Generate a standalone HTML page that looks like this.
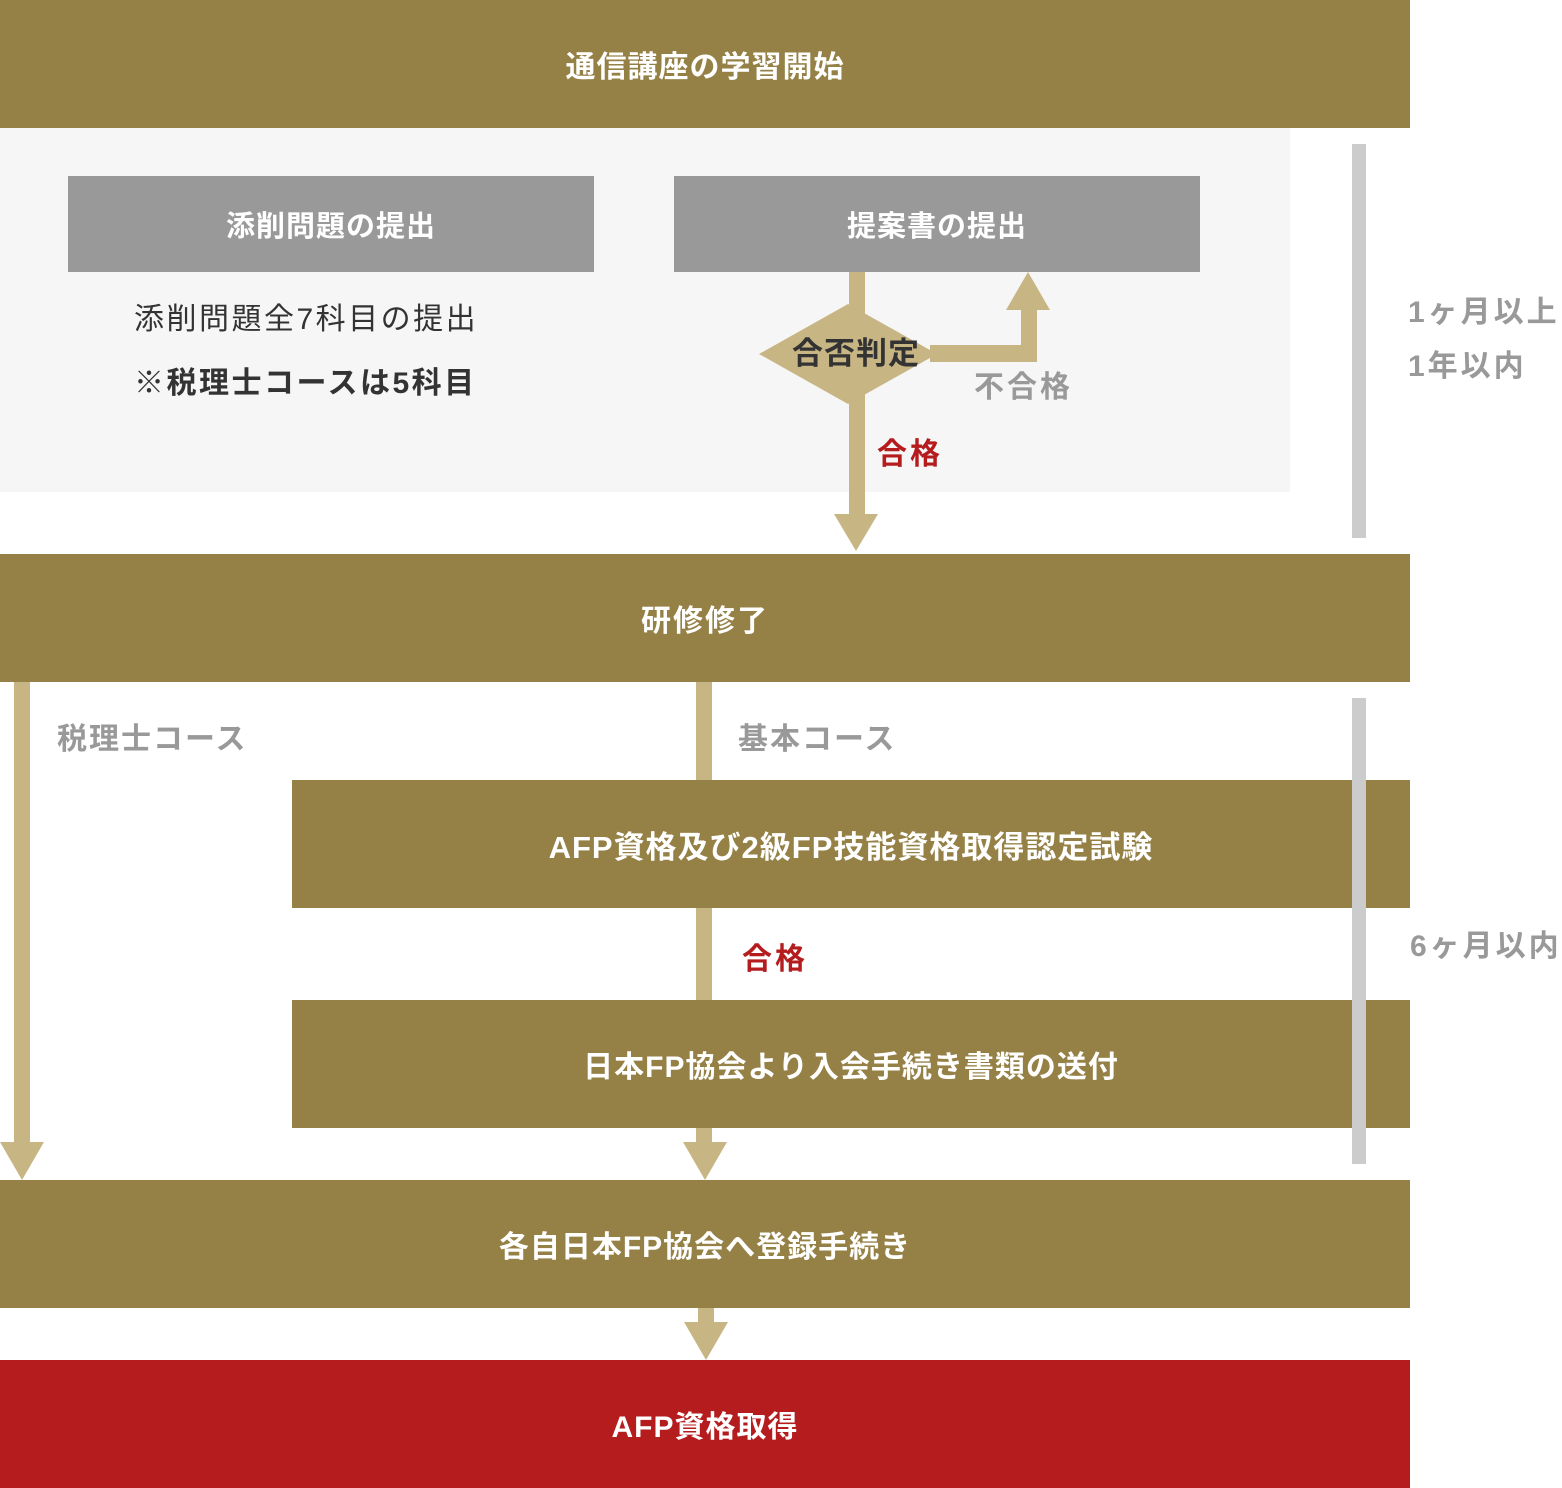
<!DOCTYPE html>
<html><head><meta charset="utf-8"><style>
*{margin:0;padding:0;box-sizing:border-box}
body{width:1562px;height:1488px;background:#fff;position:relative;overflow:hidden;font-family:"Liberation Sans","Noto Sans CJK JP",sans-serif}
.a{position:absolute}
.b{position:absolute;background:#958046;color:#fff;font-weight:bold;font-size:30px;display:flex;align-items:center;justify-content:center;letter-spacing:2px}
.g{position:absolute;background:#999;color:#fff;font-weight:bold;font-size:29px;display:flex;align-items:center;justify-content:center;letter-spacing:2px}
.t{position:absolute;font-size:29px;white-space:nowrap;line-height:1;font-weight:bold}
</style></head><body>
<div class="a" style="left:0;top:128px;width:1290px;height:364px;background:#f6f6f6"></div>
<div class="b" style="left:0;top:0;width:1410px;height:128px;letter-spacing:1px">通信講座の学習開始</div>
<div class="g" style="left:68px;top:176px;width:526px;height:96px;letter-spacing:1px">添削問題の提出</div>
<div class="g" style="left:674px;top:176px;width:526px;height:96px;letter-spacing:1px">提案書の提出</div>
<div class="t" style="left:134px;top:305px;color:#333;font-weight:normal;letter-spacing:2.5px;font-size:30px">添削問題全7科目の提出</div>
<div class="t" style="left:134px;top:369px;color:#333;letter-spacing:2.5px;font-size:30px">※税理士コースは5科目</div>
<div class="t" style="left:1408px;top:298px;color:#999;letter-spacing:3px;font-size:30px">1ヶ月以上</div>
<div class="t" style="left:1408px;top:352px;color:#999;letter-spacing:3px;font-size:30px">1年以内</div>
<div class="t" style="left:1410px;top:932px;color:#999;letter-spacing:3px;font-size:30px">6ヶ月以内</div>
<svg class="a" style="left:0;top:0" width="1562" height="1488">
<g fill="#c8b584">
<rect x="849" y="272" width="16" height="244"/>
<polygon points="759,354 848,304 937,354 848,404"/>
<rect x="930" y="345" width="107" height="17"/>
<rect x="1021" y="308" width="16" height="54"/>
<polygon points="1006,310 1050,310 1028,272"/>
<polygon points="834,514 878,514 856,551"/>
<rect x="14" y="682" width="16" height="462"/>
<polygon points="0,1142 44,1142 22,1180"/>
<rect x="696" y="682" width="16" height="100"/>
<rect x="696" y="906" width="16" height="96"/>
<rect x="696" y="1126" width="16" height="18"/>
<polygon points="683,1142 727,1142 705,1180"/>
<rect x="698" y="1306" width="16" height="18"/>
<polygon points="684,1322 728,1322 706,1360"/>
</g>
</svg>
<div class="t" style="left:792px;top:338px;color:#333;letter-spacing:1px;font-size:31px">合否判定</div>
<div class="t" style="left:974px;top:373px;color:#999;letter-spacing:3px;font-size:30px">不合格</div>
<div class="t" style="left:877px;top:440px;color:#b41c1e;letter-spacing:3px;font-size:30px">合格</div>
<div class="b" style="left:0;top:554px;width:1410px;height:128px">研修修了</div>
<div class="t" style="left:57px;top:725px;color:#999;letter-spacing:2px;font-size:30px">税理士コース</div>
<div class="t" style="left:738px;top:725px;color:#999;letter-spacing:2px;font-size:30px">基本コース</div>
<div class="b" style="left:292px;top:780px;width:1118px;height:128px;letter-spacing:1px;font-size:31px">AFP資格及び2級FP技能資格取得認定試験</div>
<div class="t" style="left:742px;top:945px;color:#b41c1e;letter-spacing:3px;font-size:30px">合格</div>
<div class="b" style="left:292px;top:1000px;width:1118px;height:128px;letter-spacing:1px">日本FP協会より入会手続き書類の送付</div>
<div class="a" style="left:1352px;top:144px;width:14px;height:394px;background:#ccc"></div>
<div class="a" style="left:1352px;top:698px;width:14px;height:466px;background:#ccc"></div>
<div class="b" style="left:0;top:1180px;width:1410px;height:128px;letter-spacing:1px">各自日本FP協会へ登録手続き</div>
<div class="b" style="left:0;top:1360px;width:1410px;height:128px;background:#b41c1e;letter-spacing:1px">AFP資格取得</div>
</body></html>
